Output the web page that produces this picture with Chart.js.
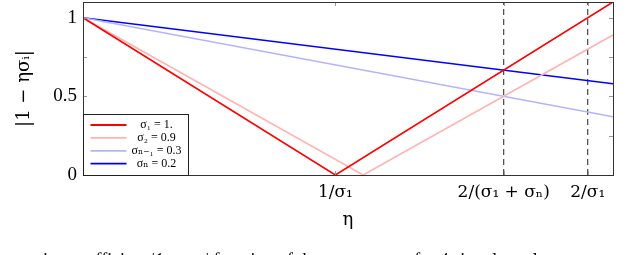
<!DOCTYPE html>
<html>
<head>
<meta charset="utf-8">
<script src="https://cdn.jsdelivr.net/npm/chart.js@4"></script>
<style>
  html, body { margin: 0; padding: 0; background: #fff; }
  #wrap { width: 640px; height: 255px; }
</style>
</head>
<body>
<div id="wrap"><canvas id="conv-chart" width="640" height="255"></canvas></div>
<script>
// значення
const seriesNames = ["σ₁ = 1.", "σ₂ = 0.9", "σₙ₋₁ = 0.3", "σₙ = 0.2"];
const seriesColors = ["#ff0000", "#ffb3b3", "#b3b3ff", "#0000ff"];

const s1Eta = [0, 1, 2.1];
const s1Val = [1, 0, 1.1];
const s2Eta = [0, 1.11, 2.1];
const s2Val = [1, 0, 0.89];
const s3Eta = [0, 2.1];
const s3Val = [1, 0.37];
const s4Eta = [0, 2.1];
const s4Val = [1, 0.58];

const dashEta = [1.667, 2];
const dashVal = [0, 1.1];

const xTickValues = [1, 1.667, 2];
const xTickLabels = ["1/σ₁", "2/(σ₁ + σₙ)", "2/σ₁"];
const yTickValues = [0, 0.25, 0.5, 0.75, 1];
const yTickLabels = ["0", "", "0.5", "", "1"];

const caption = "ation coefficient |1 − ησᵢ| function of the parameter η for 4 singular values";

const toPts = (xs, ys) => xs.map((x, i) => ({ x: x, y: ys[i] }));

const serifA = "'Liberation Serif', 'DejaVu Serif', serif";
const serifB = "'DejaVu Serif', 'Liberation Serif', serif";
Chart.defaults.font.family = serifA;
Chart.defaults.color = "#000";

const lineSets = [
    toPts(s1Eta, s1Val), toPts(s2Eta, s2Val), toPts(s3Eta, s3Val), toPts(s4Eta, s4Val)
].map((pts, i) => ({
    label: seriesNames[i],
    data: pts,
    borderColor: seriesColors[i],
    backgroundColor: seriesColors[i],
    borderWidth: 1.6,
    pointRadius: 0,
    tension: 0
}));

const dashSets = dashEta.map(x => ({
    label: "",
    data: toPts([x, x], dashVal),
    borderColor: "#222",
    borderWidth: 1,
    borderDash: [6, 4],
    pointRadius: 0
}));

// рамка, внутрішні риски, легенда і підпис
const decor = {
    id: "decor",
    afterDatasetsDraw(chart) {
        const { ctx, chartArea: a, scales } = chart;
        ctx.save();
        // риски
        ctx.strokeStyle = "#999";
        ctx.lineWidth = 1;
        yTickValues.slice(1).forEach(v => {
            const y = Math.round(scales.y.getPixelForValue(v)) + 0.5;
            ctx.beginPath();
            ctx.moveTo(a.left, y); ctx.lineTo(a.left + 4, y);
            ctx.moveTo(a.right, y); ctx.lineTo(a.right - 4, y);
            ctx.stroke();
        });
        xTickValues.forEach(v => {
            const x = Math.round(scales.x.getPixelForValue(v)) + 0.5;
            ctx.beginPath();
            ctx.moveTo(x, a.bottom); ctx.lineTo(x, a.bottom - 4);
            ctx.moveTo(x, a.top); ctx.lineTo(x, a.top + 4);
            ctx.stroke();
        });
        // рамка
        ctx.strokeStyle = "#333";
        ctx.strokeRect(Math.round(a.left) + 0.5, Math.round(a.top) + 0.5,
            Math.round(a.right - a.left), Math.round(a.bottom - a.top));

        // легенда
        const bx = Math.round(a.left) + 0.5, by = 114.5, bw = 105, bh = Math.round(a.bottom) - 114;
        ctx.fillStyle = "#fff";
        ctx.fillRect(bx, by, bw, bh);
        ctx.strokeStyle = "#222";
        ctx.strokeRect(bx, by, bw, bh);
        ctx.font = "12px " + serifA;
        ctx.textAlign = "center";
        ctx.textBaseline = "middle";
        lineSets.forEach((ds, i) => {
            const y = 125 + i * 12.9;
            ctx.strokeStyle = ds.borderColor;
            ctx.lineWidth = 1.8;
            ctx.beginPath();
            ctx.moveTo(bx + 7, y); ctx.lineTo(bx + 43, y);
            ctx.stroke();
            ctx.fillStyle = "#000";
            ctx.fillText(ds.label, bx + 73, y);
        });

        // обрізаний підпис знизу
        ctx.font = "18px " + serifA;
        ctx.textAlign = "left";
        ctx.textBaseline = "alphabetic";
        ctx.fillStyle = "#000";
        ctx.fillText(caption, 30, 266);
        ctx.restore();
    }
};

new Chart(document.getElementById("conv-chart"), {
    type: "line",
    data: { datasets: lineSets.concat(dashSets) },
    options: {
        responsive: false,
        animation: false,
        layout: { padding: { top: 2, right: 27, left: 0, bottom: 0 } },
        plugins: { legend: { display: false }, tooltip: { enabled: false } },
        scales: {
            x: {
                type: "linear",
                min: 0,
                max: 2.1,
                grid: { display: false, drawTicks: false },
                border: { display: false },
                afterBuildTicks: s => { s.ticks = xTickValues.map(v => ({ value: v })); },
                afterFit: s => {
                    s.height = 80;
                    s.paddingLeft = 0; s.paddingRight = 0;
                },
                ticks: {
                    padding: 7,
                    maxRotation: 0,
                    autoSkip: false,
                    font: { size: 17, family: serifB },
                    callback: (v, i) => xTickLabels[i]
                },
                title: {
                    display: true,
                    text: "η",
                    font: { size: 18, family: serifB },
                    padding: { top: 0, bottom: 24 }
                }
            },
            y: {
                min: 0,
                max: 1.1,
                grid: { display: false, drawTicks: false },
                border: { display: false },
                afterBuildTicks: s => { s.ticks = yTickValues.map(v => ({ value: v })); },
                afterFit: s => {
                    s.width = 83;
                    s.paddingTop = 0; s.paddingBottom = 0;
                },
                ticks: {
                    padding: 6,
                    autoSkip: false,
                    font: { size: 19 },
                    callback: (v, i) => yTickLabels[i]
                },
                title: {
                    display: true,
                    text: "|1 − ησᵢ|",
                    font: { size: 18, family: serifB },
                    padding: { top: 14, bottom: 0 }
                }
            }
        }
    },
    plugins: [decor]
});
</script>
</body>
</html>
